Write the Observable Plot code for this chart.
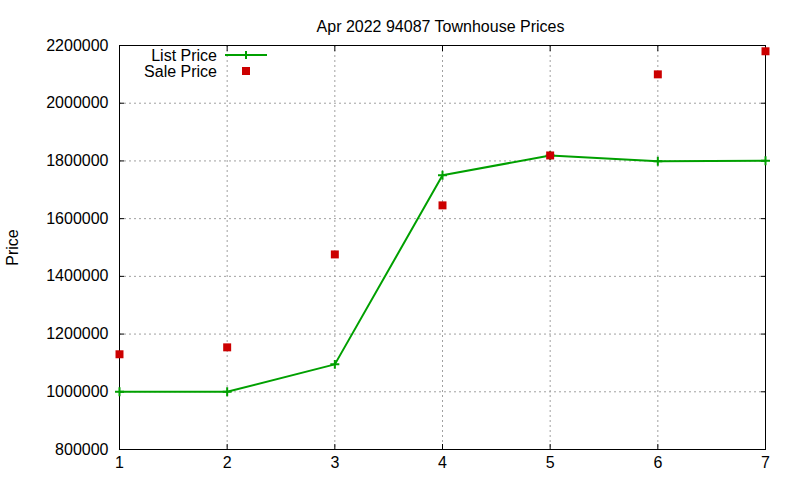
<!DOCTYPE html>
<html>
<head>
<meta charset="utf-8">
<script src="https://cdn.jsdelivr.net/npm/d3@7"></script>
<script src="https://cdn.jsdelivr.net/npm/@observablehq/plot@0.6"></script>
<style>
  html, body { margin: 0; padding: 0; background: #fff; }
  #wrap { position: relative; width: 800px; height: 480px; font-family: "Liberation Sans", Arial, sans-serif; }
  #legend { position: absolute; left: 0; top: 0; pointer-events: none; }
</style>
</head>
<body>
<div id="wrap"></div>
<script>
const titleText = "Apr 2022 94087 Townhouse Prices";
const yLabel = "Price";
const xs = [1, 2, 3, 4, 5, 6, 7];
const listPrice = [1000000, 1000000, 1095000, 1750000, 1819000, 1799000, 1801000];
const salePrice = [1130000, 1154000, 1476000, 1646000, 1819000, 2100000, 2180000];
const xTicks = [1, 2, 3, 4, 5, 6, 7];
const yTicks = [800000, 1000000, 1200000, 1400000, 1600000, 1800000, 2000000, 2200000];
const seriesNames = ["List Price", "Sale Price"];

const green = "#00a000";
const red = "#cc0000";

const listData = xs.map((x, i) => ({x, y: listPrice[i]}));
const saleData = xs.map((x, i) => ({x, y: salePrice[i]}));

const chart = Plot.plot({
  width: 800,
  height: 480,
  marginLeft: 119,
  marginRight: 35,
  marginTop: 45,
  marginBottom: 31,
  style: {fontFamily: '"Liberation Sans", Arial, sans-serif', fontSize: "16px", color: "#000", background: "#fff"},
  x: {domain: [1, 7], ticks: xTicks},
  y: {domain: [800000, 2200000], ticks: yTicks},
  marks: [
    Plot.gridX(xTicks.slice(1, -1), {stroke: "#a0a0a0", strokeOpacity: 1, strokeDasharray: "2,3"}),
    Plot.gridY(yTicks.slice(1, -1), {stroke: "#a0a0a0", strokeOpacity: 1, strokeDasharray: "2,3"}),
    Plot.axisX(xTicks, {anchor: "bottom", tickSize: -5, tickPadding: 12, tickFormat: d => String(d), label: null, fontSize: 16, color: "#000"}),
    Plot.axisX(xTicks, {anchor: "top", tickSize: -5, tickFormat: () => "", label: null}),
    Plot.axisY(yTicks, {anchor: "left", tickSize: -5, tickPadding: 16, tickFormat: d => String(d), label: null, fontSize: 16}),
    Plot.axisY(yTicks, {anchor: "right", tickSize: -5, tickFormat: () => "", label: null}),
    Plot.frame({stroke: "#000", strokeWidth: 1}),
    Plot.line(listData, {x: "x", y: "y", stroke: green, strokeWidth: 2}),
    Plot.dot(listData, {x: "x", y: "y", symbol: "plus", stroke: green, strokeWidth: 2, r: 3}),
    Plot.dot(saleData, {x: "x", y: "y", symbol: "square", fill: red, stroke: null, r: 4.5}),
    Plot.text([titleText], {frameAnchor: "top", dy: -25, dx: -2, text: d => d, fontSize: 16, fill: "#000"}),
    Plot.text([yLabel], {frameAnchor: "left", textAnchor: "middle", dx: -107, dy: 0, rotate: -90, text: d => d, fontSize: 16, fill: "#000"})
  ]
});

const wrap = document.getElementById("wrap");
wrap.appendChild(chart);

// legend overlay
const ns = "http://www.w3.org/2000/svg";
const leg = document.createElementNS(ns, "svg");
leg.setAttribute("id", "legend");
leg.setAttribute("width", 800);
leg.setAttribute("height", 480);
const rows = [
  {name: seriesNames[0], y: 55, kind: "line"},
  {name: seriesNames[1], y: 71, kind: "square"}
];
for (const r of rows) {
  const t = document.createElementNS(ns, "text");
  t.setAttribute("x", 217);
  t.setAttribute("y", r.y);
  t.setAttribute("dy", "0.35em");
  t.setAttribute("text-anchor", "end");
  t.setAttribute("font-size", "16");
  t.setAttribute("font-family", '"Liberation Sans", Arial, sans-serif');
  t.textContent = r.name;
  leg.appendChild(t);
  if (r.kind === "line") {
    const l = document.createElementNS(ns, "line");
    l.setAttribute("x1", 225); l.setAttribute("x2", 267);
    l.setAttribute("y1", r.y); l.setAttribute("y2", r.y);
    l.setAttribute("stroke", green); l.setAttribute("stroke-width", 2);
    leg.appendChild(l);
    const p = document.createElementNS(ns, "path");
    p.setAttribute("d", `M242,${r.y}h8M246,${r.y - 4}v8`);
    p.setAttribute("stroke", green); p.setAttribute("stroke-width", 2);
    leg.appendChild(p);
  } else {
    const s = document.createElementNS(ns, "rect");
    s.setAttribute("x", 242); s.setAttribute("y", r.y - 4);
    s.setAttribute("width", 8); s.setAttribute("height", 8);
    s.setAttribute("fill", red);
    leg.appendChild(s);
  }
}
wrap.appendChild(leg);
</script>
</body>
</html>
